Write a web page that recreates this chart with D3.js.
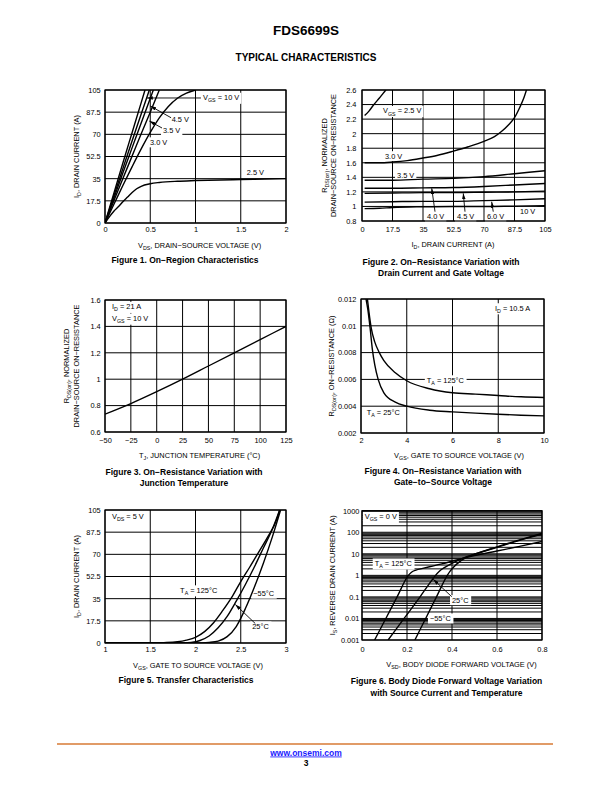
<!DOCTYPE html>
<html><head><meta charset="utf-8">
<script src="https://cdn.jsdelivr.net/npm/d3@7"></script>
<style>
body{margin:0;background:#fff;}
svg{display:block;font-family:"Liberation Sans",Arial,Helvetica,sans-serif;}
</style></head><body>
<svg id="page" width="612" height="792"></svg>
<script>
// ---------------- DATA ----------------
// Figure 1: On-Region Characteristics (VDS V, ID A)
const f1XTicks = [0, 0.5, 1, 1.5, 2];
const f1XLabels = ["0", "0.5", "1", "1.5", "2"];
const f1YTicks = [0, 17.5, 35, 52.5, 70, 87.5, 105];
const f1YLabels = ["0", "17.5", "35", "52.5", "70", "87.5", "105"];
const f1Vgs10 = [[0,0],[0.1,24],[0.2,48],[0.3,71.5],[0.4,95],[0.442,105]];
const f1Vgs6 = [[0,0],[0.1,22],[0.2,43.5],[0.3,65],[0.4,86],[0.49,105]];
const f1Vgs45 = [[0,0],[0.1,20],[0.2,40],[0.3,59.5],[0.4,79],[0.534,105]];
const f1Vgs35 = [[0,0],[0.1,18],[0.2,35.5],[0.3,53],[0.4,70.5],[0.5,87.5],[0.6,105]];
const f1Vgs30 = [[0,0],[0.1,15],[0.2,30],[0.3,44.5],[0.4,58.5],[0.5,71.5],[0.6,83],[0.7,92],[0.8,98.5],[0.9,102.5],[1.0,105]];
const f1Vgs25 = [[0,0],[0.05,5],[0.1,9.5],[0.15,13],[0.2,17],[0.25,20.5],[0.3,24],[0.35,27],[0.4,29],[0.5,31],[0.6,32],[0.8,33],[1.0,33.5],[1.5,34.3],[2.0,35]];

// Figure 2: normalized RDS(on) vs ID
const f2XTicks = [0, 17.5, 35, 52.5, 70, 87.5, 105];
const f2XLabels = ["0", "17.5", "35", "52.5", "70", "87.5", "105"];
const f2YTicks = [0.8, 1, 1.2, 1.4, 1.6, 1.8, 2, 2.2, 2.4, 2.6];
const f2YLabels = ["0.8", "1", "1.2", "1.4", "1.6", "1.8", "2", "2.2", "2.4", "2.6"];
const f2Vgs25 = [[1.5,2.25],[4,2.31],[6.5,2.39],[10,2.49],[12,2.55],[14,2.61]];
const f2Vgs30 = [[1.5,1.6],[10,1.6],[17.5,1.61],[26,1.63],[35,1.665],[43,1.7],[52.5,1.76],[61,1.82],[70,1.895],[76,1.96],[80,2.03],[84,2.12],[87.5,2.22],[90.5,2.36],[93,2.5],[94.5,2.61]];
const f2Vgs35 = [[1.5,1.36],[17.5,1.36],[35,1.375],[52.5,1.385],[70,1.41],[87.5,1.45],[105,1.49]];
const f2Vgs40 = [[1.5,1.25],[17.5,1.25],[35,1.255],[52.5,1.26],[70,1.275],[87.5,1.295],[105,1.315]];
const f2Vgs45 = [[1.5,1.18],[17.5,1.185],[35,1.19],[52.5,1.19],[70,1.195],[87.5,1.2],[105,1.21]];
const f2Vgs60 = [[1.5,1.06],[17.5,1.065],[35,1.07],[52.5,1.07],[70,1.08],[87.5,1.09],[105,1.105]];
const f2Vgs10 = [[1.5,0.97],[10,0.975],[17.5,0.985],[35,0.995],[52.5,1.0],[70,1.0],[87.5,1.005],[105,1.01]];

// Figure 3: normalized RDS(on) vs TJ
const f3XTicks = [-50, -25, 0, 25, 50, 75, 100, 125];
const f3XLabels = ["\u221250", "\u221225", "0", "25", "50", "75", "100", "125"];
const f3YTicks = [0.6, 0.8, 1, 1.2, 1.4, 1.6];
const f3YLabels = ["0.6", "0.8", "1", "1.2", "1.4", "1.6"];
const f3Curve = [[-50,0.735],[-25,0.815],[0,0.905],[25,1.0],[50,1.1],[75,1.2],[100,1.3],[125,1.4]];

// Figure 4: RDS(on) vs VGS
const f4XTicks = [2, 4, 6, 8, 10];
const f4XLabels = ["2", "4", "6", "8", "10"];
const f4YTicks = [0.002, 0.004, 0.006, 0.008, 0.01, 0.012];
const f4YLabels = ["0.002", "0.004", "0.006", "0.008", "0.01", "0.012"];
const f4T25 = [[2.22,0.012],[2.3,0.0112],[2.4,0.0098],[2.5,0.0082],[2.6,0.0071],[2.75,0.006],[3.0,0.005],[3.5,0.0043],[4,0.004],[5,0.0037],[6,0.00358],[7,0.00348],[8,0.0034],[9,0.00333],[10,0.00328]];
const f4T125 = [[2.28,0.012],[2.35,0.011],[2.45,0.0098],[2.6,0.0088],[2.8,0.008],[3.0,0.0074],[3.5,0.0065],[4,0.0059],[5,0.0053],[6,0.005],[7,0.0049],[8,0.0048],[9,0.0047],[10,0.00465]];

// Figure 5: Transfer characteristics (VGS V, ID A)
const f5XTicks = [1, 1.5, 2, 2.5, 3];
const f5XLabels = ["1", "1.5", "2", "2.5", "3"];
const f5YTicks = [0, 17.5, 35, 52.5, 70, 87.5, 105];
const f5YLabels = ["0", "17.5", "35", "52.5", "70", "87.5", "105"];
const f5T125 = [[1,0],[1.5,0],[1.65,0.3],[1.8,1],[1.9,2.3],[2.0,4.5],[2.1,9],[2.2,16],[2.3,25.5],[2.4,36],[2.5,48.5],[2.6,60],[2.7,72],[2.8,84],[2.9,98],[2.93,105]];
const f5T25 = [[1,0],[1.8,0],[1.95,0.5],[2.05,2],[2.15,5.5],[2.25,12],[2.35,21],[2.45,33],[2.55,46],[2.65,60],[2.75,75],[2.85,90],[2.93,105]];
const f5TM55 = [[1,0],[2.0,0],[2.15,0.5],[2.25,1.5],[2.35,5],[2.45,13],[2.55,27],[2.65,44],[2.75,63],[2.85,84],[2.94,105]];

// Figure 6: Body diode forward voltage (VSD V, IS A, log)
const f6XTicks = [0, 0.2, 0.4, 0.6, 0.8];
const f6XLabels = ["0", "0.2", "0.4", "0.6", "0.8"];
const f6YTicks = [0.001, 0.01, 0.1, 1, 10, 100, 1000];
const f6YLabels = ["0.001", "0.01", "0.1", "1", "10", "100", "1000"];
const f6T125 = [[0.056,0.001],[0.106,0.01],[0.156,0.1],[0.206,1],[0.22,1.4],[0.24,1.75],[0.27,2.1],[0.3,2.5],[0.35,3.3],[0.4,4.5],[0.45,6.2],[0.5,8.3],[0.6,13.5],[0.7,22],[0.8,37]];
const f6T25 = [[0.116,0.001],[0.187,0.01],[0.258,0.1],[0.305,0.5],[0.325,0.95],[0.345,1.6],[0.37,2.4],[0.4,3.6],[0.45,6.3],[0.5,9.5],[0.6,20],[0.7,42],[0.8,82]];
const f6TM55 = [[0.235,0.001],[0.283,0.01],[0.331,0.1],[0.379,1],[0.39,1.5],[0.41,2.6],[0.43,4],[0.46,6.5],[0.5,9.5],[0.6,21],[0.7,44],[0.8,88]];

// ---------------- DRAWING ----------------
const svg = d3.select("#page");
const FONT = '"Liberation Sans", Arial, Helvetica, sans-serif';
const FS = 7.4;      // tick / label font size
const CAP_FS = 8.5;  // caption font size
const defs = svg.append("defs");
defs.append("marker").attr("id", "arrow").attr("viewBox", "0 0 10 6")
  .attr("refX", 10).attr("refY", 3).attr("markerWidth", 6).attr("markerHeight", 3.6)
  .attr("markerUnits", "userSpaceOnUse").attr("orient", "auto")
  .append("path").attr("d", "M0,0L10,3L0,6Z").attr("fill", "#000");

function rich(t, parts, fs) {
  let shifted = false;
  parts.forEach(p => {
    const isSub = typeof p === "object";
    const s = t.append("tspan").text(isSub ? p.sub : p);
    if (isSub) { s.attr("font-size", fs * 0.72).attr("dy", fs * 0.28); shifted = true; }
    else if (shifted) { s.attr("dy", -fs * 0.28); shifted = false; }
  });
  return t;
}

function drawChart(c) {
  const g = svg.append("g");
  const [L, T, R, B] = c.box;
  const x = d3.scaleLinear().domain(c.xDomain).range([L, R]);
  const y = (c.yLog ? d3.scaleLog() : d3.scaleLinear()).domain(c.yDomain).range([B, T]);
  const clipId = "clip" + c.id;
  defs.append("clipPath").attr("id", clipId).append("rect")
    .attr("x", L).attr("y", T).attr("width", R - L).attr("height", B - T);
  const gGrid = g.append("g"), gBox = g.append("g"),
        gCurve = g.append("g").attr("clip-path", `url(#${clipId})`),
        gFrame = g.append("g"), gText = g.append("g");

  gGrid.selectAll(null).data(c.xGrid).join("line")
    .attr("x1", d => x(d)).attr("x2", d => x(d)).attr("y1", T).attr("y2", B)
    .attr("stroke", "#000").attr("stroke-width", 1);
  gGrid.selectAll(null).data(c.yGrid).join("line")
    .attr("y1", d => y(d)).attr("y2", d => y(d)).attr("x1", L).attr("x2", R)
    .attr("stroke", "#000").attr("stroke-width", 1);

  const line = d3.line().x(d => x(d[0])).y(d => y(d[1])).curve(d3.curveMonotoneX);
  gCurve.selectAll(null).data(c.series).join("path")
    .attr("d", d => line(d)).attr("fill", "none").attr("stroke", "#000")
    .attr("stroke-width", 1.4).attr("stroke-linejoin", "round");

  gFrame.append("rect").attr("x", L).attr("y", T).attr("width", R - L).attr("height", B - T)
    .attr("fill", "none").attr("stroke", "#000").attr("stroke-width", 1.2);

  // axes
  const ax = gText.append("g").attr("transform", `translate(0,${B})`)
    .call(d3.axisBottom(x).tickValues(c.xTicks).tickFormat((d, i) => c.xLabels[i]).tickSize(0).tickPadding(c.xPad));
  const ay = gText.append("g").attr("transform", `translate(${L},0)`)
    .call(d3.axisLeft(y).tickValues(c.yTicks).tickFormat((d, i) => c.yLabels[i]).tickSize(0).tickPadding(c.yPad));
  [ax, ay].forEach(a => {
    a.select(".domain").remove();
    a.attr("font-size", FS).attr("font-family", FONT);
    a.selectAll("text").attr("fill", "#000");
  });

  // x title
  rich(gText.append("text").attr("x", c.xTitleX).attr("y", c.xTitleY)
    .attr("text-anchor", "middle").attr("font-size", FS), c.xTitle, FS);
  // y titles
  c.yTitles.forEach(yt => {
    rich(gText.append("text").attr("text-anchor", "middle").attr("font-size", FS)
      .attr("transform", `translate(${yt.x + 2.7},${(T + B) / 2}) rotate(-90)`), yt.parts, FS);
  });
  // caption
  c.caption.forEach((cap, i) => {
    gText.append("text").attr("x", c.capX).attr("y", c.capY + i * 11.5)
      .attr("text-anchor", "middle").attr("font-size", CAP_FS).attr("font-weight", "bold").text(cap);
  });

  // arrows
  (c.arrows || []).forEach(a => {
    gText.append("line").attr("x1", x(a.from[0])).attr("y1", y(a.from[1]))
      .attr("x2", x(a.to[0])).attr("y2", y(a.to[1]))
      .attr("stroke", "#000").attr("stroke-width", 0.9)
      .attr("marker-end", "url(#arrow)");
  });
  // labels with white boxes
  (c.labels || []).forEach(lb => {
    const t = rich(gText.append("text").attr("x", x(lb.at[0])).attr("y", y(lb.at[1]))
      .attr("font-size", FS), lb.parts, FS);
    const bb = t.node().getBBox();
    gBox.append("rect").attr("x", bb.x - 2).attr("y", bb.y - 0.5)
      .attr("width", bb.width + 4).attr("height", bb.height + 1).attr("fill", "#fff");
  });
}

// page header
svg.append("text").attr("x", 306).attr("y", 34.5).attr("text-anchor", "middle")
  .attr("font-size", 13.5).attr("font-weight", "bold").text("FDS6699S");
svg.append("text").attr("x", 306).attr("y", 60.5).attr("text-anchor", "middle")
  .attr("font-size", 10).attr("font-weight", "bold").text("TYPICAL CHARACTERISTICS");

const YT_RDS = [{ sub: "DS(on)" }];

// Figure 1
drawChart({
  id: 1, box: [105, 90, 286, 223], xDomain: [0, 2], yDomain: [0, 105],
  xTicks: f1XTicks, xLabels: f1XLabels, yTicks: f1YTicks, yLabels: f1YLabels,
  xGrid: f1XTicks, yGrid: f1YTicks, xPad: 3.6, yPad: 4.3,
  series: [f1Vgs10, f1Vgs6, f1Vgs45, f1Vgs35, f1Vgs30, f1Vgs25],
  xTitle: ["V", { sub: "DS" }, ", DRAIN\u2212SOURCE VOLTAGE (V)"], xTitleX: 199.6, xTitleY: 247.7,
  yTitles: [{ x: 76, parts: ["I", { sub: "D" }, ", DRAIN CURRENT (A)"] }],
  caption: ["Figure 1. On\u2212Region Characteristics"], capX: 185, capY: 263,
  arrows: [
    { from: [1.06, 98.7], to: [0.462, 98.7] },
    { from: [0.73, 83.1], to: [0.5, 92.4] },
    { from: [0.63, 75], to: [0.49, 80.5] }
  ],
  labels: [
    { at: [1.083, 96.9], parts: ["V", { sub: "GS" }, " = 10 V"] },
    { at: [0.737, 80], parts: ["4.5 V"] },
    { at: [0.641, 71.3], parts: ["3.5 V"] },
    { at: [0.497, 61.7], parts: ["3.0 V"] },
    { at: [1.566, 37.6], parts: ["2.5 V"] }
  ]
});

// Figure 2
drawChart({
  id: 2, box: [362, 90, 545, 221], xDomain: [0, 105], yDomain: [0.8, 2.6],
  xTicks: f2XTicks, xLabels: f2XLabels, yTicks: f2YTicks, yLabels: f2YLabels,
  xGrid: f2XTicks, yGrid: f2YTicks, xPad: 6.1, yPad: 5.6,
  series: [f2Vgs25, f2Vgs30, f2Vgs35, f2Vgs40, f2Vgs45, f2Vgs60, f2Vgs10],
  xTitle: ["I", { sub: "D" }, ", DRAIN CURRENT (A)"], xTitleX: 453, xTitleY: 246.7,
  yTitles: [{ x: 324, parts: ["R", ...YT_RDS, ", NORMALIZED"] },
            { x: 333.3, parts: ["DRAIN\u2212SOURCE ON\u2212RESISTANCE"] }],
  caption: ["Figure 2. On\u2212Resistance Variation with", "Drain Current and Gate Voltage"], capX: 441, capY: 264.7,
  arrows: [
    { from: [41.9, 0.928], to: [40.0, 1.249] },
    { from: [59.1, 0.928], to: [58.1, 1.18] },
    { from: [75.3, 0.928], to: [74.4, 1.065] }
  ],
  labels: [
    { at: [12.05, 2.278], parts: ["V", { sub: "GS" }, " = 2.5 V"] },
    { at: [13.2, 1.656], parts: ["3.0 V"] },
    { at: [20.1, 1.395], parts: ["3.5 V"] },
    { at: [37.3, 0.822], parts: ["4.0 V"] },
    { at: [54.5, 0.822], parts: ["4.5 V"] },
    { at: [71.7, 0.822], parts: ["6.0 V"] },
    { at: [90.7, 0.891], parts: ["10 V"] }
  ]
});

// Figure 3
drawChart({
  id: 3, box: [105, 300, 286, 432], xDomain: [-50, 125], yDomain: [0.6, 1.6],
  xTicks: f3XTicks, xLabels: f3XLabels, yTicks: f3YTicks, yLabels: f3YLabels,
  xGrid: f3XTicks, yGrid: f3YTicks, xPad: 5.4, yPad: 4.3,
  series: [f3Curve],
  xTitle: ["T", { sub: "J" }, ", JUNCTION TEMPERATURE (\u00B0C)"], xTitleX: 199.6, xTitleY: 457.7,
  yTitles: [{ x: 66.7, parts: ["R", ...YT_RDS, ", NORMALIZED"] },
            { x: 76, parts: ["DRAIN\u2212SOURCE ON\u2212RESISTANCE"] }],
  caption: ["Figure 3. On\u2212Resistance Variation with", "Junction Temperature"], capX: 184, capY: 474.7,
  labels: [
    { at: [-43.2, 1.529], parts: ["I", { sub: "D" }, " = 21 A"] },
    { at: [-43.2, 1.44], parts: ["V", { sub: "GS" }, " = 10 V"] }
  ]
});

// Figure 4
drawChart({
  id: 4, box: [361, 299, 544, 433], xDomain: [2, 10], yDomain: [0.002, 0.012],
  xTicks: f4XTicks, xLabels: f4XLabels, yTicks: f4YTicks, yLabels: f4YLabels,
  xGrid: f4XTicks, yGrid: f4YTicks, xPad: 4.6, yPad: 4.6,
  series: [f4T25, f4T125],
  xTitle: ["V", { sub: "GS" }, ", GATE TO SOURCE VOLTAGE (V)"], xTitleX: 459, xTitleY: 458.4,
  yTitles: [{ x: 331.7, parts: ["R", ...YT_RDS, ", ON\u2212RESISTANCE (\u03A9)"] }],
  caption: ["Figure 4. On\u2212Resistance Variation with", "Gate\u2212to\u2212Source Voltage"], capX: 443, capY: 473.7,
  labels: [
    { at: [7.855, 0.011123], parts: ["I", { sub: "D" }, " = 10.5 A"] },
    { at: [4.877, 0.005748], parts: ["T", { sub: "A" }, " = 125\u00B0C"] },
    { at: [2.25, 0.003372], parts: ["T", { sub: "A" }, " = 25\u00B0C"] }
  ]
});

// Figure 5
drawChart({
  id: 5, box: [105, 510, 286, 643], xDomain: [1, 3], yDomain: [0, 105],
  xTicks: f5XTicks, xLabels: f5XLabels, yTicks: f5YTicks, yLabels: f5YLabels,
  xGrid: f5XTicks, yGrid: f5YTicks, xPad: 3.6, yPad: 4.3,
  series: [f5T125, f5T25, f5TM55],
  xTitle: ["V", { sub: "GS" }, ", GATE TO SOURCE VOLTAGE (V)"], xTitleX: 198, xTitleY: 667.7,
  yTitles: [{ x: 76, parts: ["I", { sub: "D" }, ", DRAIN CURRENT (A)"] }],
  caption: ["Figure 5. Transfer Characteristics"], capX: 186, capY: 683,
  arrows: [{ from: [2.66, 15.4], to: [2.44, 30.4] }],
  labels: [
    { at: [1.077, 97.6], parts: ["V", { sub: "DS" }, " = 5 V"] },
    { at: [1.83, 39.6], parts: ["T", { sub: "A" }, " = 125\u00B0C"] },
    { at: [2.638, 37.0], parts: ["\u221255\u00B0C"] },
    { at: [2.627, 11.1], parts: ["25\u00B0C"] }
  ]
});

// Figure 6 (log y)
const f6YGrid = [];
for (let k = -3; k <= 2; k++) for (let m = 1; m <= 9; m++) f6YGrid.push(+(m * Math.pow(10, k)).toPrecision(3));
f6YGrid.push(1000);
drawChart({
  id: 6, box: [362, 510.7, 542, 640], xDomain: [0, 0.8], yDomain: [0.001, 1000], yLog: true,
  xTicks: f6XTicks, xLabels: f6XLabels, yTicks: f6YTicks, yLabels: f6YLabels,
  xGrid: f6XTicks, yGrid: f6YGrid, xPad: 6.3, yPad: 2.6,
  series: [f6T125, f6T25, f6TM55],
  xTitle: ["V", { sub: "SD" }, ", BODY DIODE FORWARD VOLTAGE (V)"], xTitleX: 461.5, xTitleY: 667,
  yTitles: [{ x: 332.7, parts: ["I", { sub: "S" }, ", REVERSE DRAIN CURRENT (A)"] }],
  caption: ["Figure 6. Body Diode Forward Voltage Variation", "with Source Current and Temperature"], capX: 446.5, capY: 684,
  arrows: [{ from: [0.3987, 0.102], to: [0.3166, 0.656] }],
  labels: [
    { at: [0.012, 394], parts: ["V", { sub: "GS" }, " = 0 V"] },
    { at: [0.0566, 2.72], parts: ["T", { sub: "A" }, " = 125\u00B0C"] },
    { at: [0.40, 0.0538], parts: ["25\u00B0C"] },
    { at: [0.302, 0.00762], parts: ["\u221255\u00B0C"] }
  ]
});

// footer
svg.append("line").attr("x1", 57).attr("x2", 553).attr("y1", 744).attr("y2", 744)
  .attr("stroke", "#d77a34").attr("stroke-width", 1.6);
svg.append("text").attr("x", 306).attr("y", 755.5).attr("text-anchor", "middle")
  .attr("font-size", 8.5).attr("font-weight", "bold").attr("fill", "#1a1aff")
  .attr("text-decoration", "underline").text("www.onsemi.com");
svg.append("text").attr("x", 306).attr("y", 766).attr("text-anchor", "middle")
  .attr("font-size", 8.5).attr("font-weight", "bold").text("3");
</script></body></html>
